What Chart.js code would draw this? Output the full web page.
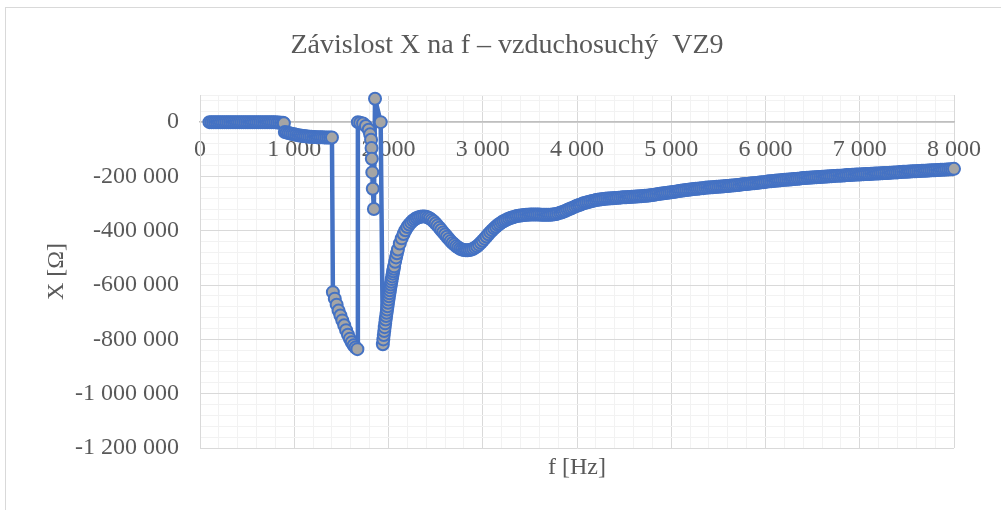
<!DOCTYPE html>
<html>
<head>
<meta charset="utf-8">
<script src="https://cdn.jsdelivr.net/npm/chart.js@4.4.0/dist/chart.umd.min.js"></script>
<style>
    html, body { margin: 0; padding: 0; background: #fff; overflow: hidden; }
    #wrap { position: relative; width: 1001px; height: 510px; }
    #frame { position: absolute; left: 5px; top: 7px; width: 1100px; height: 600px; border: 1px solid #d9d9d9; }
    #myChart { position: absolute; left: 0; top: 0; }
</style>
</head>
<body>
<div id="wrap">
    <div id="frame"></div>
    <canvas id="myChart" width="1001" height="510"></canvas>
</div>
<script>
    var chartTitle = 'Závislost X na f – vzduchosuchý  VZ9';
    var xTitle = 'f [Hz]';
    var yTitle = 'X [Ω]';

    // axis ranges / tick steps (major + minor grid)
    var xMin = 0, xMax = 8000, xMajor = 1000, xMinor = 200;
    var yMin = -1200000, yMax = 100000, yMajor = 200000, yMinor = 40000;

    // frequency [Hz]
    var freqHz = [
        100, 120, 140, 160, 180, 200, 220, 240, 260, 280,
        300, 320, 340, 360, 380, 400, 420, 440, 460, 480,
        500, 520, 540, 560, 580, 600, 620, 640, 660, 680,
        700, 720, 740, 760, 780, 800, 820, 840, 860, 880,
        890,
        900, 920, 940, 960, 980, 1000, 1020, 1040, 1060, 1080,
        1100, 1120, 1140, 1160, 1180, 1200, 1220, 1240, 1260, 1280,
        1300, 1320, 1340, 1360, 1380, 1400,
        1410, 1430, 1450, 1470, 1490, 1510, 1530, 1550, 1570, 1590,
        1610, 1630, 1650, 1670,
        1675, 1700, 1730, 1760, 1790, 1805, 1815, 1820, 1823, 1828,
        1833, 1845, 1857, 1917,
        1940, 1945, 1950, 1955, 1960, 1965, 1970, 1975, 1980, 1985,
        1990, 1995, 2000, 2005, 2010, 2015, 2020, 2025, 2030, 2035,
        2040, 2045, 2050, 2055, 2060, 2070, 2080, 2090,
        2100, 2120, 2140, 2160, 2180, 2200, 2220, 2240, 2260, 2280,
        2300, 2320, 2340, 2360, 2380, 2400, 2420, 2440, 2460, 2480,
        2500, 2520, 2540, 2560, 2580, 2600, 2620, 2640, 2660, 2680,
        2700, 2720, 2740, 2760, 2780, 2800, 2820, 2840, 2860, 2880,
        2900, 2920, 2940, 2960, 2980, 3000, 3020, 3040, 3060, 3080,
        3100, 3120, 3140, 3160, 3180, 3200, 3220, 3240, 3260, 3280,
        3300, 3320, 3340, 3360, 3380, 3400, 3420, 3440, 3460, 3480,
        3500, 3520, 3540, 3560, 3580, 3600, 3620, 3640, 3660, 3680,
        3700, 3720, 3740, 3760, 3780, 3800, 3820, 3840, 3860, 3880,
        3900, 3920, 3940, 3960, 3980, 4000, 4020, 4040, 4060, 4080,
        4100, 4120, 4140, 4160, 4180, 4200, 4220, 4240, 4260, 4280,
        4300, 4320, 4340, 4360, 4380, 4400, 4420, 4440, 4460, 4480,
        4500, 4520, 4540, 4560, 4580, 4600, 4620, 4640, 4660, 4680,
        4700, 4720, 4740, 4760, 4780, 4800, 4820, 4840, 4860, 4880,
        4900, 4920, 4940, 4960, 4980, 5000, 5020, 5040, 5060, 5080,
        5100, 5120, 5140, 5160, 5180, 5200, 5220, 5240, 5260, 5280,
        5300, 5320, 5340, 5360, 5380, 5400, 5420, 5440, 5460, 5480,
        5500, 5520, 5540, 5560, 5580, 5600, 5620, 5640, 5660, 5680,
        5700, 5720, 5740, 5760, 5780, 5800, 5820, 5840, 5860, 5880,
        5900, 5920, 5940, 5960, 5980, 6000, 6020, 6040, 6060, 6080,
        6100, 6120, 6140, 6160, 6180, 6200, 6220, 6240, 6260, 6280,
        6300, 6320, 6340, 6360, 6380, 6400, 6420, 6440, 6460, 6480,
        6500, 6520, 6540, 6560, 6580, 6600, 6620, 6640, 6660, 6680,
        6700, 6720, 6740, 6760, 6780, 6800, 6820, 6840, 6860, 6880,
        6900, 6920, 6940, 6960, 6980, 7000, 7020, 7040, 7060, 7080,
        7100, 7120, 7140, 7160, 7180, 7200, 7220, 7240, 7260, 7280,
        7300, 7320, 7340, 7360, 7380, 7400, 7420, 7440, 7460, 7480,
        7500, 7520, 7540, 7560, 7580, 7600, 7620, 7640, 7660, 7680,
        7700, 7720, 7740, 7760, 7780, 7800, 7820, 7840, 7860, 7880,
        7900, 7920, 7940, 7960, 7980, 8000
    ];

    // reactance X [kOhm]
    var reactanceK = [
        0, 0, 0, 0, 0, 0, 0, 0, 0, 0,
        0, 0, 0, 0, 0, 0, 0, 0, 0, 0,
        0, 0, 0, 0, 0, 0, 0, 0, 0, 0,
        0, 0, 0, 0, 0, 0, -1, -1, -2, -2,
        -4,
        -36, -38, -40, -42, -43.5, -45, -46.5, -48, -49, -50,
        -51, -52, -52.8, -53.5, -54, -54.5, -55, -55.3, -55.6, -55.8,
        -56, -56.2, -56.4, -56.5, -56.6, -56.7,
        -626, -650, -672, -694, -712, -730, -748, -766, -783, -798,
        -811, -822, -830, -836,
        0, -2, -5, -14, -28, -45, -65, -95, -135, -185,
        -245, -320, 86, 0,
        -818, -800, -784, -769, -755, -741, -727, -714, -702, -690,
        -678, -665, -653, -641, -630, -619, -608, -598, -588, -578,
        -568, -558, -549, -540, -531, -514, -498, -483,
        -469, -447, -428, -412, -398, -386, -377, -369, -362, -357,
        -353, -350, -348, -347, -347, -348, -351, -355, -360, -366,
        -373, -381, -389, -397, -406, -414, -422, -430, -438, -445,
        -451, -457, -462, -466, -469, -471, -472, -472, -471, -469,
        -466, -462, -457, -451, -444, -437, -429, -421, -413, -405,
        -398, -391, -385, -379, -374, -369, -365, -361, -358, -355,
        -352, -350, -348, -346, -345, -344, -343, -342, -341, -341,
        -340, -340, -340, -340, -340, -340, -341, -341, -341, -341,
        -341, -341, -340, -339, -338, -336, -334, -332, -329, -326,
        -323, -320, -317, -314, -311, -308, -305, -303, -300, -298,
        -296, -294, -292, -290, -289, -287, -286, -285, -284, -283,
        -282, -281, -281, -280, -280, -279, -279, -278, -278, -277,
        -277, -277, -276, -276, -275, -275, -274, -274, -273, -273,
        -272, -271, -271, -270, -269, -268, -267, -266, -265, -264,
        -263, -262, -261, -260, -259, -258, -257, -256, -255, -254,
        -253, -252, -251, -250, -249, -248, -247, -246, -245, -245,
        -244, -243, -243, -242, -241, -241, -240, -240, -239, -238,
        -238, -237, -237, -236, -235, -235, -234, -233, -233, -232,
        -231, -231, -230, -229, -228, -228, -227, -226, -225, -225,
        -224, -223, -222, -221, -221, -220, -219, -218, -218, -217,
        -216, -215, -215, -214, -213, -212, -212, -211, -211, -210,
        -209, -209, -208, -208, -207, -206, -206, -205, -205, -204,
        -204, -203, -203, -202, -202, -201, -201, -200, -200, -199,
        -199, -198, -198, -197, -197, -197, -196, -196, -195, -195,
        -195, -194, -194, -193, -193, -193, -192, -192, -191, -191,
        -191, -190, -190, -189, -189, -189, -188, -188, -187, -187,
        -187, -186, -186, -185, -185, -185, -184, -184, -183, -183,
        -183, -182, -182, -181, -181, -181, -180, -180, -179, -179,
        -179, -178, -178, -177, -177, -177, -176, -176, -175, -175,
        -175, -174, -174, -173, -173, -172
    ];

    var textColor = '#595959';
    var fontFamily = "'Liberation Serif', 'Times New Roman', serif";
    var colorLine = '#4472C4';
    var colorMarker = '#A5A5A5';
    var gridMajor = '#D9D9D9';
    var gridMinor = '#F2F2F2';

    function fmt(v) {
        var s = Math.abs(v).toString().replace(/\B(?=(\d{3})+(?!\d))/g, ' ');
        return (v < 0 ? '-' : '') + s;
    }

    var n = Math.min(freqHz.length, reactanceK.length);
    var points = [];
    for (var i = 0; i < n; i++) {
        points.push({ x: freqHz[i], y: reactanceK[i] * 1000 });
    }

    // title drawn at the same spot as in the original sheet
    var titlePlugin = {
        id: 'sheetTitle',
        afterDraw: function (chart) {
            var ctx = chart.ctx;
            ctx.save();
            ctx.font = '28px ' + fontFamily;
            ctx.fillStyle = textColor;
            ctx.textAlign = 'center';
            ctx.textBaseline = 'middle';
            ctx.fillText(chartTitle, 507, 46);
            ctx.restore();
        }
    };

    var ctx = document.getElementById('myChart');
    var myChart = new Chart(ctx, {
        type: 'scatter',
        data: {
            datasets: [{
                data: points,
                showLine: true,
                borderColor: colorLine,
                borderWidth: 4.5,
                borderJoinStyle: 'round',
                borderCapStyle: 'round',
                tension: 0,
                pointRadius: 6,
                pointBorderWidth: 2,
                pointBackgroundColor: colorMarker,
                pointBorderColor: colorLine,
                clip: false
            }]
        },
        options: {
            responsive: false,
            animation: false,
            events: [],
            layout: {
                padding: { left: 0, right: 47, top: 95, bottom: 0 }
            },
            plugins: {
                legend: { display: false },
                tooltip: { enabled: false },
                title: { display: false }
            },
            scales: {
                x: {
                    type: 'linear',
                    min: xMin,
                    max: xMax,
                    position: { y: 0 },
                    afterBuildTicks: function (scale) {
                        var t = [];
                        for (var v = xMin; v <= xMax; v += xMinor) t.push({ value: v });
                        scale.ticks = t;
                    },
                    ticks: {
                        autoSkip: false,
                        maxRotation: 0,
                        padding: 13,
                        color: textColor,
                        font: { family: fontFamily, size: 24 },
                        callback: function (v) { return v % xMajor === 0 ? fmt(v) : ''; }
                    },
                    grid: {
                        drawTicks: false,
                        color: function (c) {
                            return c.tick && c.tick.value % xMajor === 0 ? gridMajor : gridMinor;
                        }
                    },
                    border: { color: '#BFBFBF', width: 1.5 }
                },
                x2: {
                    type: 'linear',
                    min: xMin,
                    max: xMax,
                    position: 'bottom',
                    grid: { display: false },
                    border: { display: false },
                    ticks: { display: false },
                    title: {
                        display: true,
                        text: xTitle,
                        color: textColor,
                        font: { family: fontFamily, size: 24 },
                        padding: { top: 0, bottom: 28 }
                    },
                    afterFit: function (scale) { scale.height = 62; }
                },
                y: {
                    type: 'linear',
                    min: yMin,
                    max: yMax,
                    afterBuildTicks: function (scale) {
                        var t = [];
                        for (var v = yMin; v < yMax; v += yMinor) t.push({ value: v });
                        t.push({ value: yMax });
                        scale.ticks = t;
                    },
                    ticks: {
                        autoSkip: false,
                        padding: 21,
                        color: textColor,
                        font: { family: fontFamily, size: 24 },
                        callback: function (v) { return v % yMajor === 0 ? fmt(v) : ''; }
                    },
                    grid: {
                        drawTicks: false,
                        color: function (c) {
                            return c.tick && c.tick.value % yMajor === 0 ? gridMajor : gridMinor;
                        }
                    },
                    border: { color: gridMajor },
                    title: {
                        display: true,
                        text: yTitle,
                        color: textColor,
                        font: { family: fontFamily, size: 24 },
                        padding: { top: 42, bottom: 0 }
                    },
                    afterFit: function (scale) { scale.width = 200; }
                }
            }
        },
        plugins: [titlePlugin]
    });
</script>
</body>
</html>
